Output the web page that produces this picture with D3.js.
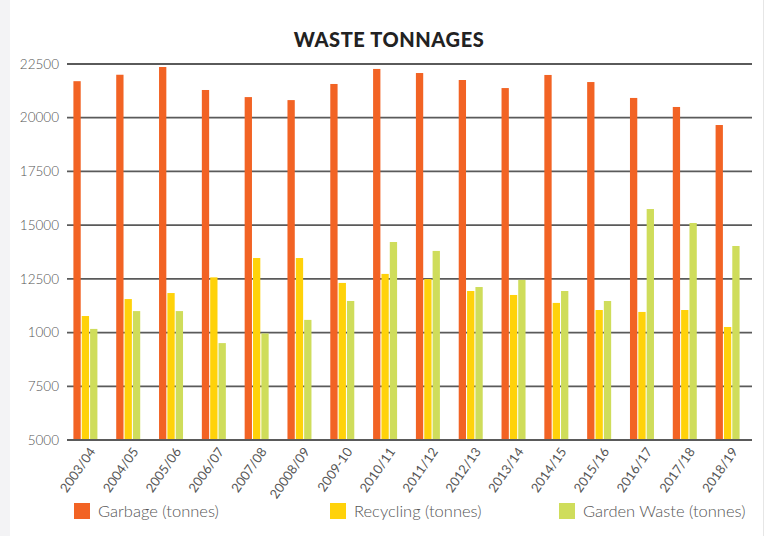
<!DOCTYPE html>
<html>
<head>
<meta charset="utf-8">
<script src="https://cdn.jsdelivr.net/npm/d3@7"></script>
<style>
  html, body { margin: 0; padding: 0; background: #fff; }
</style>
</head>
<body>
<div id="chart"></div>
<script>
// data
const years = ["2003/04", "2004/05", "2005/06", "2006/07", "2007/08", "20008/09", "2009-10", "2010/11",
  "2011/12", "2012/13", "2013/14", "2014/15", "2015/16", "2016/17", "2017/18", "2018/19"];
const garbage = [21700, 22000, 22360, 21290, 20960, 20820, 21570, 22270,
  22080, 21755, 21380, 21990, 21660, 20920, 20500, 19660];
const recycling = [10770, 11560, 11840, 12570, 13470, 13470, 12310, 12730,
  12490, 11935, 11750, 11380, 11050, 10960, 11050, 10260];
const garden = [10170, 11000, 11000, 9510, 9960, 10590, 11470, 14215,
  13800, 12120, 12450, 11935, 11470, 15750, 15100, 14030];
const seriesNames = ["Garbage (tonnes)", "Recycling (tonnes)", "Garden Waste (tonnes)"];
const yTicks = [5000, 7500, 10000, 12500, 15000, 17500, 20000, 22500];
const yTickLabels = ["5000", "7500", "1000", "12500", "15000", "17500", "20000", "22500"];

const WIDTH = 765, HEIGHT = 536;
const COLORS = ["#f26324", "#ffd20a", "#cfdd5b"];

const svg = d3.select("#chart").append("svg")
  .attr("width", WIDTH)
  .attr("height", HEIGHT)
  .style("display", "block");

// grey strip on the left edge
svg.append("rect").attr("x", 0).attr("y", 0).attr("width", 10).attr("height", HEIGHT).attr("fill", "#f3f3f5");
svg.append("line").attr("x1", 763.5).attr("x2", 763.5).attr("y1", 0).attr("y2", HEIGHT)
  .attr("stroke", "#e6e6e6").attr("stroke-width", 1);

const x = d3.scaleBand().domain(years).range([64, 749]).paddingInner(0).paddingOuter(0);
const xs = d3.scaleBand().domain([0, 1, 2]).range([0, 24]).paddingInner(0.125);
const y = d3.scaleLinear().domain([5000, 22500]).range([440, 64]);

// gridlines + y labels
const grid = svg.append("g");
grid.selectAll("line").data(yTicks).enter().append("line")
  .attr("x1", 67).attr("x2", 752)
  .attr("y1", d => y(d)).attr("y2", d => y(d))
  .attr("stroke", "#5a5a5a").attr("stroke-width", 1.8);

svg.append("g").selectAll("text").data(yTicks).enter().append("text")
  .attr("x", 59).attr("y", d => y(d))
  .attr("dy", "0.35em")
  .attr("text-anchor", "end")
  .style("font-family", "Lato, sans-serif")
  .style("font-weight", 300)
  .style("font-size", "13.5px")
  .attr("fill", "#555")
  .text((d, i) => yTickLabels[i]);

// bars
const rows = years.map((yr, i) => ({ yr, vals: [garbage[i], recycling[i], garden[i]] }));
const groups = svg.append("g").selectAll("g").data(rows).enter().append("g")
  .attr("transform", d => `translate(${x(d.yr) + x.bandwidth() / 2 - 12},0)`);
groups.selectAll("rect").data(d => d.vals).enter().append("rect")
  .attr("x", (d, j) => xs(j))
  .attr("width", xs.bandwidth())
  .attr("y", d => y(d))
  .attr("height", d => y(5000) - y(d))
  .attr("fill", (d, j) => COLORS[j]);

// redraw baseline over bars
svg.append("line").attr("x1", 67).attr("x2", 752).attr("y1", y(5000)).attr("y2", y(5000))
  .attr("stroke", "#5a5a5a").attr("stroke-width", 1.8);

// x labels
svg.append("g").selectAll("text").data(years).enter().append("text")
  .attr("transform", d => `translate(${x(d) + x.bandwidth() / 2 + 7},449) rotate(-55)`)
  .attr("text-anchor", "end")
  .attr("dy", "0.35em")
  .style("font-family", "Lato, sans-serif")
  .style("font-weight", 400)
  .style("font-size", "13px")
  .attr("fill", "#555")
  .text(d => d);

// title
svg.append("text")
  .attr("x", 389).attr("y", 47)
  .attr("text-anchor", "middle")
  .style("font-family", "Lato, sans-serif")
  .style("font-weight", 900)
  .style("font-size", "20px")
  .style("letter-spacing", "0.6px")
  .attr("fill", "#222")
  .text("WASTE TONNAGES");

// legend
const legendX = [74, 330, 559];
const legend = svg.append("g").selectAll("g").data(seriesNames).enter().append("g")
  .attr("transform", (d, i) => `translate(${legendX[i]},503)`);
legend.append("rect").attr("width", 16).attr("height", 16).attr("fill", (d, i) => COLORS[i]);
legend.append("text")
  .attr("x", 24).attr("y", 8).attr("dy", "0.35em")
  .style("font-family", "Lato, sans-serif")
  .style("font-weight", 300)
  .style("font-size", "16.5px")
  .attr("fill", "#555")
  .text(d => d);
</script>
</body>
</html>
